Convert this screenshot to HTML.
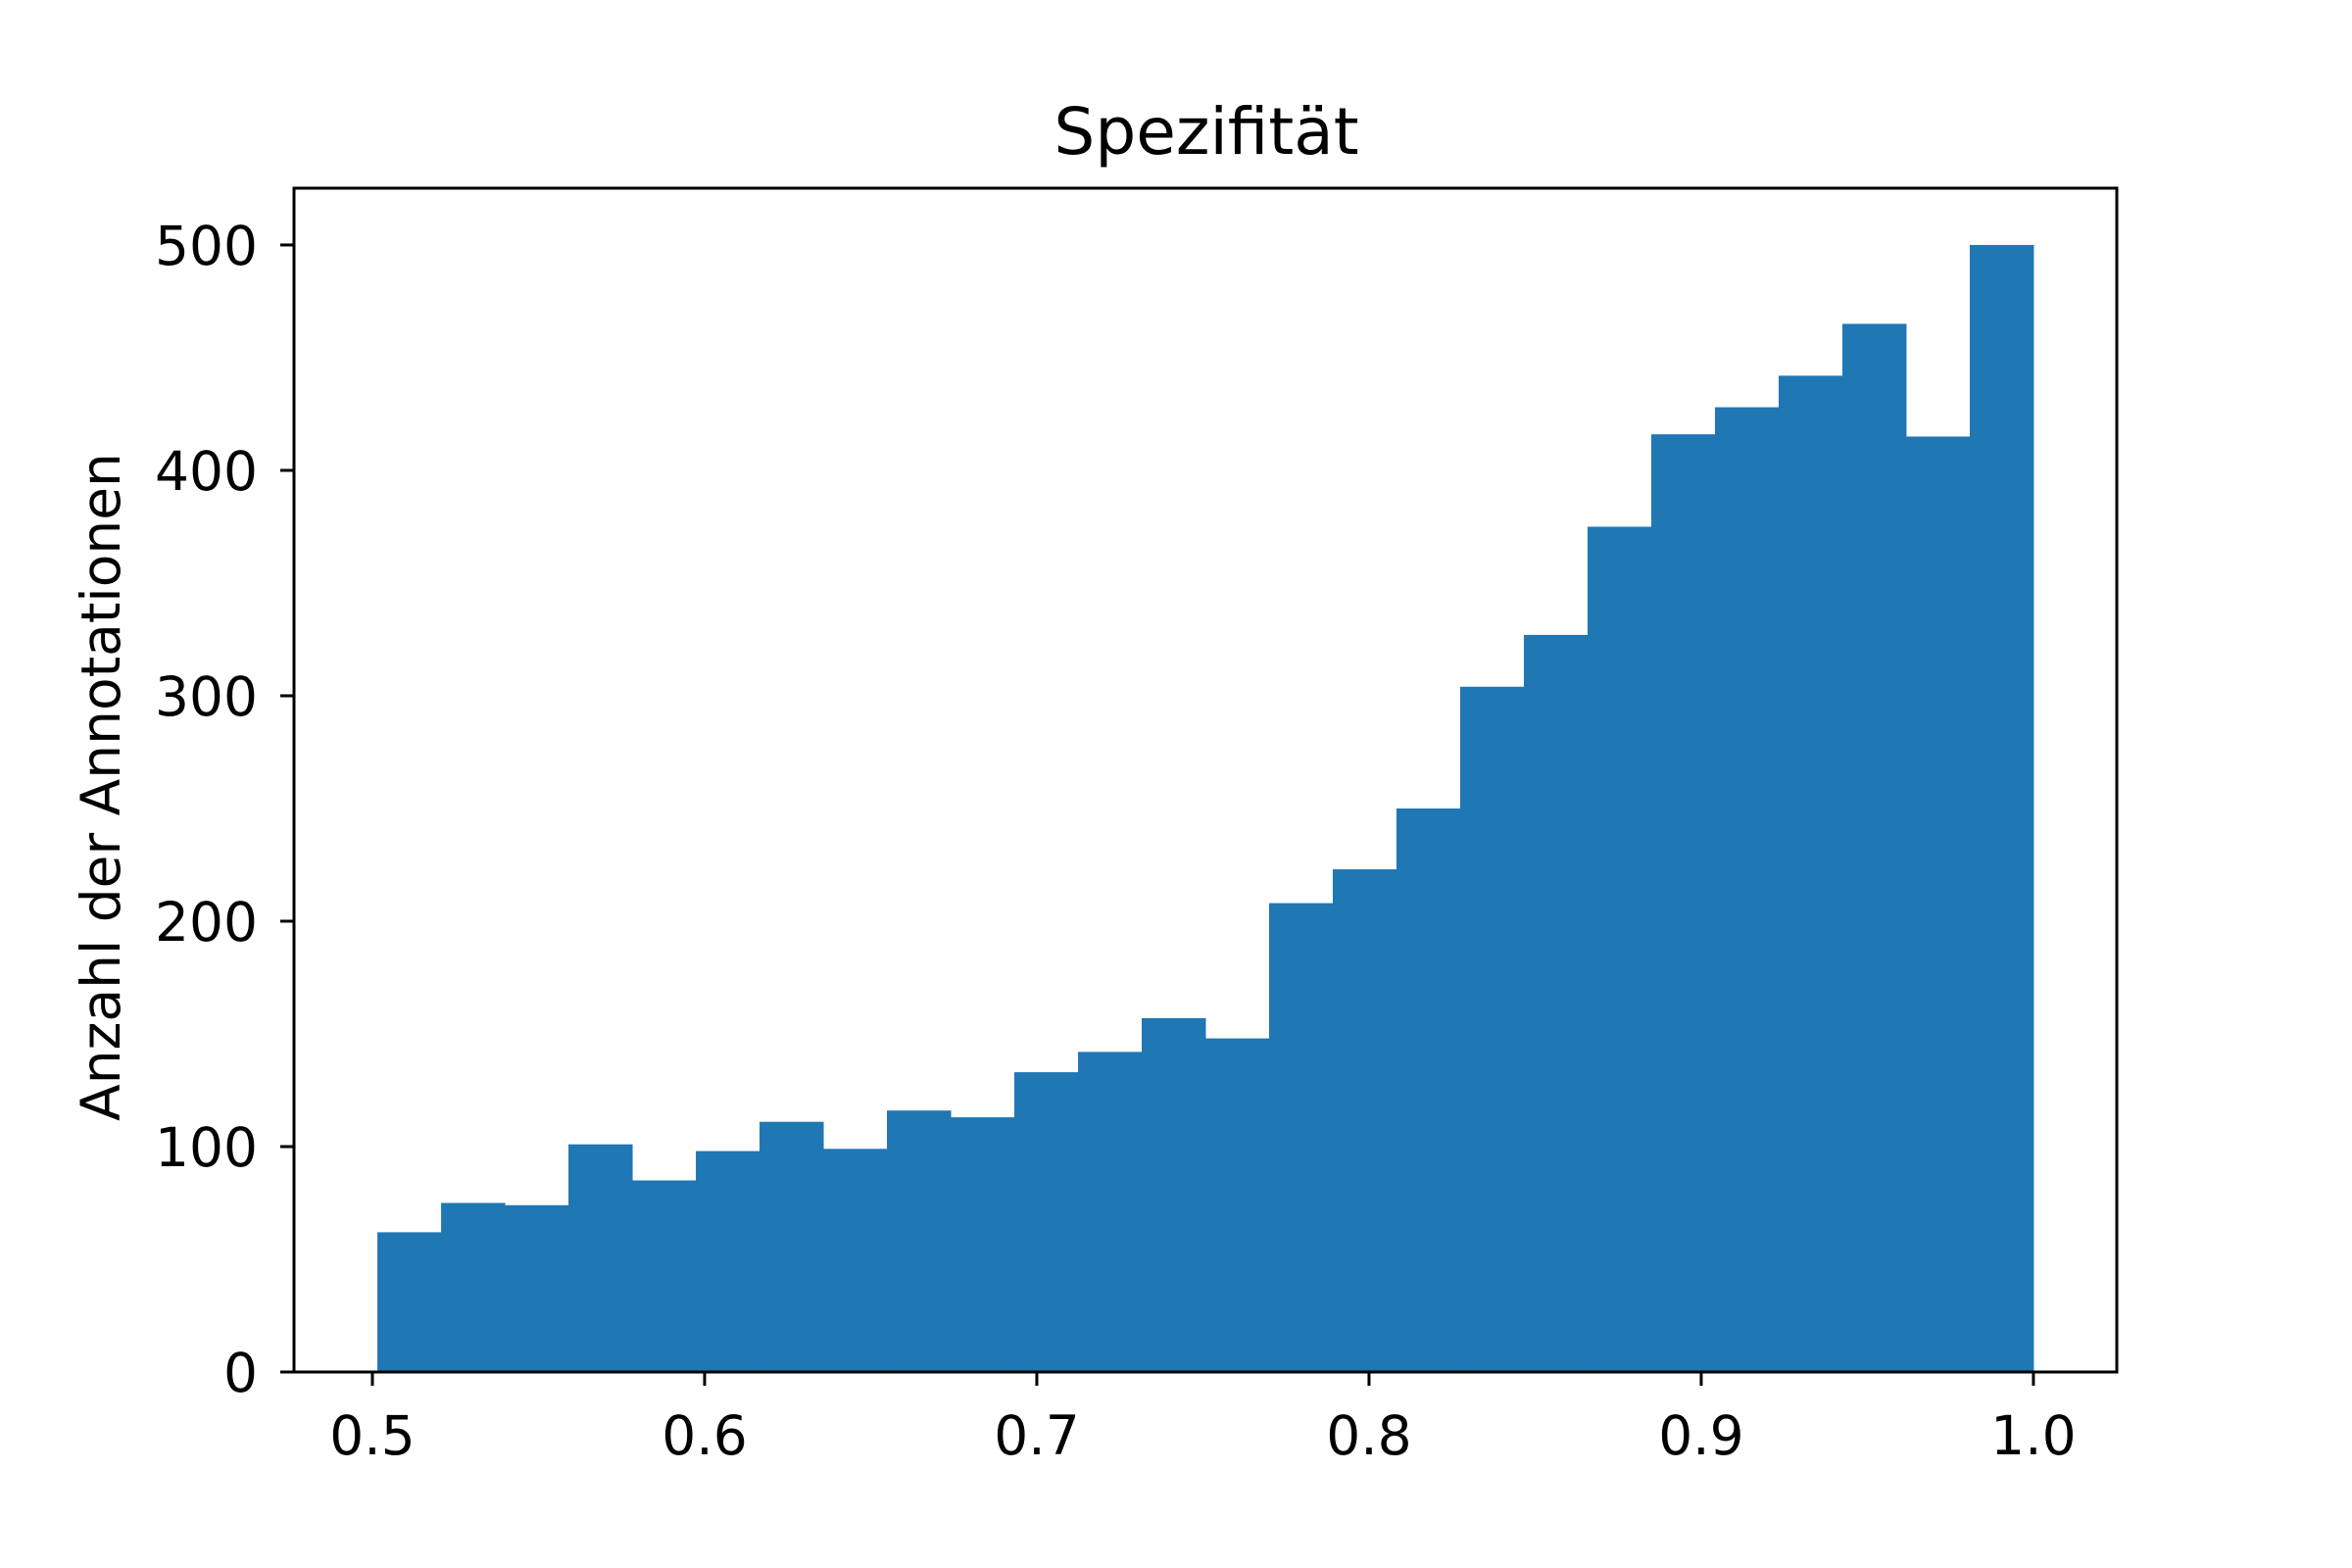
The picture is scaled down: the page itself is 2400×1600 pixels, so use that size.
<!DOCTYPE html>
<html><head><meta charset="utf-8"><style>
html,body{margin:0;padding:0;background:#fff}
svg{display:block;font-family:"DejaVu Sans","Liberation Sans",sans-serif}
</style></head><body>
<svg id="chart" width="2400" height="1600" viewBox="0 0 2400 1600">
<rect width="2400" height="1600" fill="#fff"/>
<text x="1231" y="157" font-size="66" text-anchor="middle">Spezifität</text>
<text transform="translate(122,803) rotate(-90)" font-size="55" text-anchor="middle">Anzahl der Annotationen</text>
<g id="bars"></g>
<g id="xticks"></g>
<g id="yticks"></g>
<rect x="300" y="192" width="1860" height="1208" fill="none" stroke="#000" stroke-width="3"/>
</svg>
<script>
const counts = [62,75,74,101,85,98,111,99,116,113,133,142,157,148,208,223,250,304,327,375,416,428,442,465,415,500];
const binStart = 0.5015;
const binEnd = 1.0;
const xTickValues = [0.5,0.6,0.7,0.8,0.9,1.0];
const xTickLabels = ["0.5","0.6","0.7","0.8","0.9","1.0"];
const yTickValues = [0,100,200,300,400,500];
const yTickLabels = ["0","100","200","300","400","500"];

const NS = "http://www.w3.org/2000/svg";
const xMin = 0.4764, xMax = 1.0251;
const yMin = 0, yMax = 525.2;
const L = 300, R = 2160, T = 192, B = 1400;
const X = v => L + (v - xMin) / (xMax - xMin) * (R - L);
const Y = v => B - (v - yMin) / (yMax - yMin) * (B - T);
function mk(tag, attrs){const e=document.createElementNS(NS,tag);for(const k in attrs)e.setAttribute(k,attrs[k]);return e;}

const bars = document.getElementById('bars');
const w = (binEnd - binStart) / counts.length;
counts.forEach((c,i)=>{
  const x0 = X(binStart + i*w), x1 = X(binStart + (i+1)*w);
  const r = mk('rect',{x:x0,y:Y(c),width:x1-x0+0.5,height:Y(0)-Y(c),fill:'#1f77b4'});
  
  
  bars.appendChild(r);
});

const xg = document.getElementById('xticks');
xTickValues.forEach((v,i)=>{
  const x = X(v);
  const l = mk('line',{x1:x,x2:x,y1:B,y2:B+14,stroke:'#000','stroke-width':3});
  
  
  xg.appendChild(l);
  const t = mk('text',{x:x,y:B+84,'font-size':55,'text-anchor':'middle'});
  
  
  t.textContent = xTickLabels[i];
  xg.appendChild(t);
});
const yg = document.getElementById('yticks');
yTickValues.forEach((v,i)=>{
  const y = Y(v);
  const l = mk('line',{x1:L-14,x2:L,y1:y,y2:y,stroke:'#000','stroke-width':3});
  
  
  yg.appendChild(l);
  const t = mk('text',{x:L-37,y:y+20,'font-size':55,'text-anchor':'end'});
  
  
  t.textContent = yTickLabels[i];
  yg.appendChild(t);
});
</script>
</body></html>
